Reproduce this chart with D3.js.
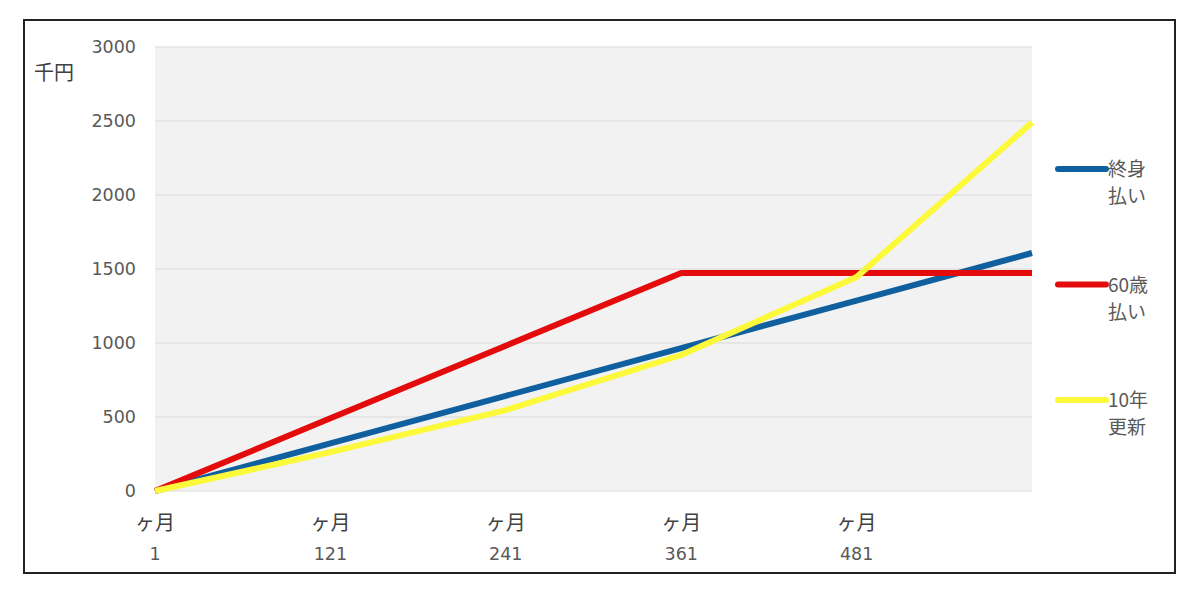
<!DOCTYPE html>
<html>
<head>
<meta charset="utf-8">
<script src="https://cdn.jsdelivr.net/npm/d3@7"></script>
<style>
  body { margin: 0; background: #fff; }
  text { font-family: "Noto Sans CJK JP", "Noto Sans", sans-serif; }
  .num { font-family: "DejaVu Sans", sans-serif; }
</style>
</head>
<body>
<div id="chart"></div>
<script>
// months (x categories) and series values in 千円
const months = [1, 121, 241, 361, 481, 601];
const tickMonths = [1, 121, 241, 361, 481];
const yTicks = [0, 500, 1000, 1500, 2000, 2500, 3000];
const lifetime = [0, 322, 643, 965, 1287, 1608];   // 終身払い
const until60 = [0, 491, 982, 1473, 1473, 1473];    // 60歳払い
const renew10 = [0, 263, 547, 919, 1446, 2490];     // 10年更新

const series = [
  { name: ["終身", "払い"], values: lifetime, color: "#10609f" },
  { name: ["60歳", "払い"], values: until60, color: "#e30b0b" },
  { name: ["10年", "更新"], values: renew10, color: "#fbf93a" }
];

const width = 1200, height = 603;
const plot = { left: 155, right: 1032, top: 47, bottom: 491 };

const svg = d3.select("#chart").append("svg")
  .attr("width", width)
  .attr("height", height);

// outer frame
svg.append("rect")
  .attr("x", 24).attr("y", 20)
  .attr("width", 1151).attr("height", 553)
  .attr("fill", "#fff")
  .attr("stroke", "#222")
  .attr("stroke-width", 2);

const x = d3.scaleLinear().domain([1, 601]).range([plot.left, plot.right]);
const y = d3.scaleLinear().domain([0, 3000]).range([plot.bottom, plot.top]);

// plot background
svg.append("rect")
  .attr("x", plot.left).attr("y", plot.top)
  .attr("width", plot.right - plot.left)
  .attr("height", plot.bottom - plot.top)
  .attr("fill", "#f2f2f2");

// gridlines
svg.append("g")
  .selectAll("line")
  .data(yTicks)
  .join("line")
  .attr("x1", plot.left).attr("x2", plot.right)
  .attr("y1", d => y(d)).attr("y2", d => y(d))
  .attr("stroke", "#d9d9d9")
  .attr("stroke-width", 1.2);

// y axis labels
const yAxis = svg.append("g")
  .attr("transform", `translate(${plot.left - 19},0)`)
  .call(d3.axisLeft(y).tickValues(yTicks).tickFormat(d3.format("d")).tickSize(0).tickPadding(0));
yAxis.select(".domain").remove();
yAxis.selectAll("text")
  .attr("class", "num")
  .attr("fill", "#595959")
  .style("font-size", "17.5px");

svg.append("text")
  .attr("x", 34).attr("y", 80)
  .attr("fill", "#404040")
  .style("font-size", "20px")
  .text("千円");

// x axis labels (two lines)
const xAxis = svg.append("g")
  .selectAll("g")
  .data(tickMonths)
  .join("g")
  .attr("transform", d => `translate(${x(d)},0)`);
xAxis.append("text")
  .attr("y", 530)
  .attr("text-anchor", "middle")
  .attr("fill", "#404040")
  .style("font-size", "20px")
  .text("ヶ月");
xAxis.append("text")
  .attr("class", "num")
  .attr("y", 560)
  .attr("text-anchor", "middle")
  .attr("fill", "#595959")
  .style("font-size", "17.5px")
  .text(d => d);

// lines
const line = d3.line()
  .x((d, i) => x(months[i]))
  .y(d => y(d));

svg.append("g")
  .selectAll("path")
  .data(series)
  .join("path")
  .attr("d", d => line(d.values))
  .attr("fill", "none")
  .attr("stroke", d => d.color)
  .attr("stroke-width", 6)
  .attr("stroke-linejoin", "round");

// legend
const legend = svg.append("g")
  .selectAll("g")
  .data(series)
  .join("g")
  .attr("transform", (d, i) => `translate(1058,${169 + i * 115.5})`);
legend.append("line")
  .attr("x1", 0).attr("x2", 48)
  .attr("stroke", d => d.color)
  .attr("stroke-width", 6)
  .attr("stroke-linecap", "round");
legend.append("text")
  .attr("x", 50).attr("y", 7)
  .attr("fill", "#595959")
  .style("font-size", "19px")
  .text(d => d.name[0]);
legend.append("text")
  .attr("x", 50).attr("y", 34)
  .attr("fill", "#595959")
  .style("font-size", "19px")
  .text(d => d.name[1]);
</script>
</body>
</html>
